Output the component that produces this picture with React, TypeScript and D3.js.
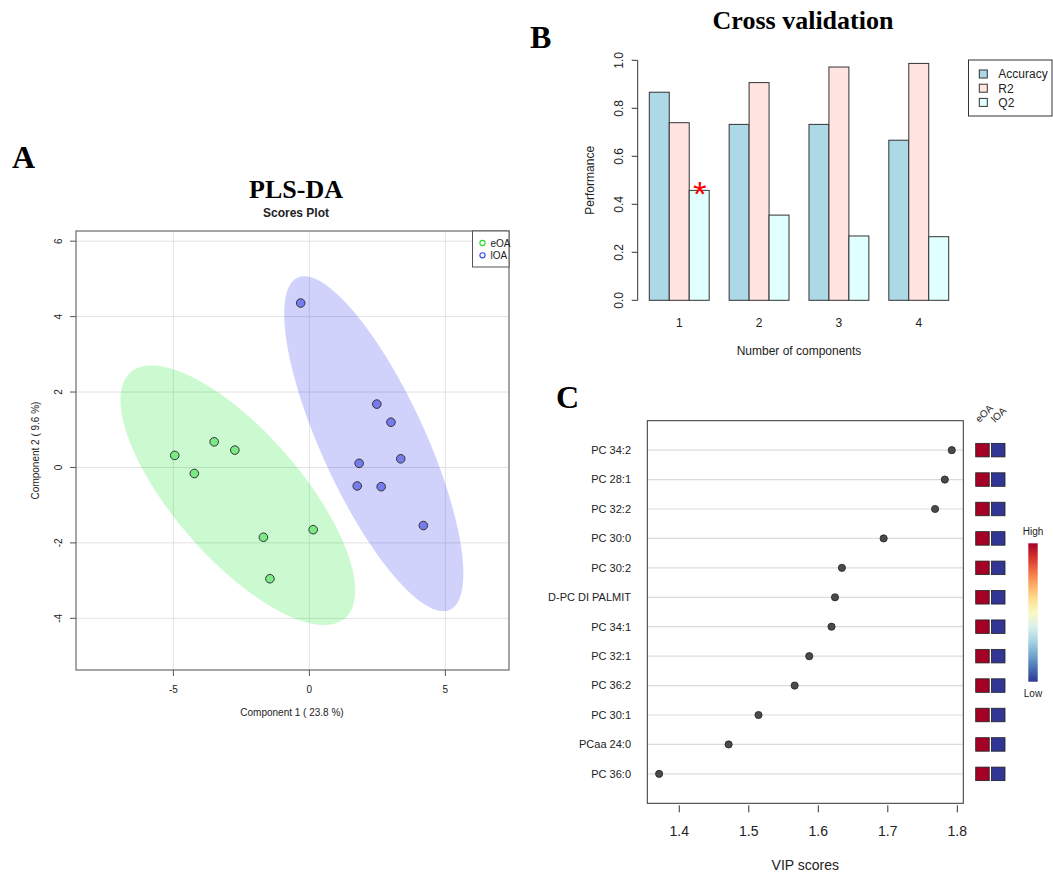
import React from "react";
import * as d3 from "d3";

const width = 1053;
const height = 875;

// ---- panel A: PLS-DA scores
const eoaX = [-4.95, -3.5, -2.74, -4.23, -1.69, 0.14, -1.45];
const eoaY = [0.32, 0.68, 0.46, -0.16, -1.85, -1.65, -2.95];
const loaX = [-0.32, 2.48, 3.0, 1.83, 3.36, 1.76, 2.64, 4.19];
const loaY = [4.36, 1.68, 1.2, 0.11, 0.23, -0.49, -0.51, -1.54];
const scoreXTicks = [-5, 0, 5];
const scoreYTicks = [-4, -2, 0, 2, 4, 6];

// ---- panel B: cross validation
const components = ["1", "2", "3", "4"];
const measures = ["Accuracy", "R2", "Q2"];
const accuracy = [0.867, 0.733, 0.733, 0.667];
const r2 = [0.74, 0.907, 0.972, 0.987];
const q2 = [0.458, 0.355, 0.268, 0.265];
const perfTicks = [0, 0.2, 0.4, 0.6, 0.8, 1.0];
const measureColors = ["#ADD8E6", "#FFE4E1", "#E0FFFF"];

// ---- panel C: VIP scores
const features = [
  "PC 34:2", "PC 28:1", "PC 32:2", "PC 30:0", "PC 30:2", "D-PC DI PALMIT",
  "PC 34:1", "PC 32:1", "PC 36:2", "PC 30:1", "PCaa 24:0", "PC 36:0",
];
const vip = [1.792, 1.782, 1.768, 1.694, 1.634, 1.624, 1.619, 1.587, 1.566, 1.514, 1.471, 1.371];
const vipTicks = [1.4, 1.5, 1.6, 1.7, 1.8];
const groups = ["eOA", "lOA"];
const eoaLevel = [1, 1, 1, 1, 1, 1, 1, 1, 1, 1, 1, 1];
const loaLevel = [0, 0, 0, 0, 0, 0, 0, 0, 0, 0, 0, 0];

const sans = "'Liberation Sans', Arial, sans-serif";
const serif = "'Liberation Serif', 'Times New Roman', serif";
const ink = "#222";

// 95% confidence ellipse, same parametrisation as R's ellipse()
function ellipse(xs: number[], ys: number[], t = Math.sqrt(5.991)) {
  const n = xs.length;
  const mx = d3.mean(xs)!;
  const my = d3.mean(ys)!;
  const sxx = d3.sum(xs, (x) => (x - mx) ** 2) / (n - 1);
  const syy = d3.sum(ys, (y) => (y - my) ** 2) / (n - 1);
  const sxy = d3.sum(xs.map((x, i) => (x - mx) * (ys[i] - my))) / (n - 1);
  const d = Math.acos(sxy / Math.sqrt(sxx * syy));
  return d3.range(120).map((i) => {
    const a = (i / 120) * 2 * Math.PI;
    return [mx + t * Math.sqrt(sxx) * Math.cos(a + d / 2), my + t * Math.sqrt(syy) * Math.cos(a - d / 2)];
  });
}

const ScoresPlot = () => {
  const x = d3.scaleLinear().domain([-8.58, 7.34]).range([76, 509]);
  const y = d3.scaleLinear().domain([-5.37, 6.27]).range([670, 231]);
  const path = d3
    .line<number[]>()
    .x((d) => x(d[0]))
    .y((d) => y(d[1]))
    .curve(d3.curveLinearClosed);
  const [x0, x1] = x.range();
  const [y0, y1] = y.range();
  const series = [
    { xs: eoaX, ys: eoaY, fill: "rgba(0,230,20,0.2)", pt: "#7aea84", legend: "#22dd22", name: "eOA" },
    { xs: loaX, ys: loaY, fill: "rgba(20,30,240,0.2)", pt: "#767cf0", legend: "#3344ee", name: "lOA" },
  ];
  return (
    <g>
      <text x={12} y={168} fontFamily={serif} fontWeight="bold" fontSize={32}>A</text>
      <text x={296} y={198} textAnchor="middle" fontFamily={serif} fontWeight="bold" fontSize={26}>PLS-DA</text>
      <text x={296} y={217} textAnchor="middle" fontFamily={sans} fontWeight="bold" fontSize={12} fill={ink}>Scores Plot</text>

      {/* grid */}
      {scoreXTicks.map((t) => (
        <line key={"gx" + t} x1={x(t)} x2={x(t)} y1={y1} y2={y0} stroke="#e2e2e2" />
      ))}
      {scoreYTicks.map((t) => (
        <line key={"gy" + t} x1={x0} x2={x1} y1={y(t)} y2={y(t)} stroke="#e2e2e2" />
      ))}

      {series.map((s) => (
        <path key={"e" + s.name} d={path(ellipse(s.xs, s.ys))!} fill={s.fill} stroke="none" />
      ))}
      {series.map((s) =>
        s.xs.map((v, i) => (
          <circle key={s.name + i} cx={x(v)} cy={y(s.ys[i])} r={4.3} fill={s.pt} stroke="#333" strokeWidth={1} />
        ))
      )}

      <rect x={x0} y={y1} width={x1 - x0} height={y0 - y1} fill="none" stroke="#6a6a6a" strokeWidth={1.2} />

      {/* axes */}
      {scoreXTicks.map((t) => (
        <g key={"tx" + t} transform={`translate(${x(t)},${y0})`}>
          <line y2={6} stroke="#555" />
          <text y={23} textAnchor="middle" fontFamily={sans} fontSize={10} fill={ink}>{t}</text>
        </g>
      ))}
      {scoreYTicks.map((t) => (
        <g key={"ty" + t} transform={`translate(${x0},${y(t)})`}>
          <line x2={-6} stroke="#555" />
          <text transform="translate(-14,0) rotate(-90)" textAnchor="middle" fontFamily={sans} fontSize={10} fill={ink}>{t}</text>
        </g>
      ))}
      <text x={292} y={716} textAnchor="middle" fontFamily={sans} fontSize={10} fill={ink}>Component 1 ( 23.8 %)</text>
      <text transform={`translate(39,${(y0 + y1) / 2}) rotate(-90)`} textAnchor="middle" fontFamily={sans} fontSize={10} fill={ink}>
        Component 2 ( 9.6 %)
      </text>

      {/* legend */}
      <rect x={472.5} y={y1} width={x1 - 472.5} height={36} fill="white" stroke="#555" />
      {series.map((s, i) => (
        <g key={"lg" + s.name} transform={`translate(482.5,${243 + i * 12.3})`}>
          <circle r={2.6} fill="none" stroke={s.legend} strokeWidth={1.1} />
          <text x={8} y={3.5} fontFamily={sans} fontSize={10} fill={ink}>{s.name}</text>
        </g>
      ))}
    </g>
  );
};

const CrossValidation = () => {
  const values = [accuracy, r2, q2];
  const x = d3.scaleBand().domain(components).range([649.3, 948.7]).paddingInner(0.25);
  const xi = d3.scaleBand().domain(measures).range([0, x.bandwidth()]);
  const y = d3.scaleLinear().domain([0, 1]).range([300.3, 60.3]);
  const best = d3.maxIndex(q2);
  return (
    <g>
      <text x={530} y={48} fontFamily={serif} fontWeight="bold" fontSize={32}>B</text>
      <text x={803} y={29} textAnchor="middle" fontFamily={serif} fontWeight="bold" fontSize={26}>Cross validation</text>

      {components.map((c, ci) => (
        <g key={c} transform={`translate(${x(c)},0)`}>
          {measures.map((m, mi) => (
            <rect
              key={m}
              x={xi(m)}
              y={y(values[mi][ci])}
              width={xi.bandwidth()}
              height={y(0) - y(values[mi][ci])}
              fill={measureColors[mi]}
              stroke="#333"
              strokeWidth={1}
            />
          ))}
          <text x={x.bandwidth() / 2} y={327} textAnchor="middle" fontFamily={sans} fontSize={12} fill={ink}>{c}</text>
        </g>
      ))}
      <text
        x={x(components[best])! + xi("Q2")! + xi.bandwidth() / 2 + 0.5}
        y={y(q2[best]) + 16}
        textAnchor="middle"
        fontFamily={sans}
        fontSize={35}
        fill="red"
      >
        *
      </text>

      {/* y axis */}
      <line x1={637.7} x2={637.7} y1={y(0)} y2={y(1)} stroke="#333" />
      {perfTicks.map((t) => (
        <g key={t} transform={`translate(637.7,${y(t)})`}>
          <line x2={-6} stroke="#333" />
          <text transform="translate(-15,0) rotate(-90)" textAnchor="middle" fontFamily={sans} fontSize={12} fill={ink}>
            {t.toFixed(1)}
          </text>
        </g>
      ))}
      <text transform={`translate(594,${(y(0) + y(1)) / 2}) rotate(-90)`} textAnchor="middle" fontFamily={sans} fontSize={12} fill={ink}>
        Performance
      </text>
      <text x={799} y={355} textAnchor="middle" fontFamily={sans} fontSize={12} fill={ink}>Number of components</text>

      {/* legend */}
      <rect x={968.5} y={60} width={83.5} height={56} fill="white" stroke="#333" />
      {measures.map((m, i) => (
        <g key={m} transform={`translate(983.3,${74 + i * 14.2})`}>
          <rect x={-4} y={-4} width={8} height={8} fill={measureColors[i]} stroke="#333" />
          <text x={15} y={4.3} fontFamily={sans} fontSize={12} fill={ink}>{m}</text>
        </g>
      ))}
    </g>
  );
};

const VipPlot = () => {
  const x = d3.scaleLinear().domain([1.354, 1.8086]).range([647.3, 963.3]);
  const y = d3.scalePoint().domain(features).range([420.7, 803.3]).padding(1);
  const hx = d3.scaleBand().domain(groups).range([975.7, 1005]).paddingInner(0.14);
  const color = d3.scaleSequential(d3.interpolateRdYlBu).domain([1, 0]);
  const levels = [eoaLevel, loaLevel];
  const [x0, x1] = x.range();
  const [y0, y1] = y.range();
  const cbTop = 543.3;
  const cbBottom = 681.7;
  const stops = d3.range(0, 1.0001, 0.1);
  return (
    <g>
      <text x={556} y={408} fontFamily={serif} fontWeight="bold" fontSize={32}>C</text>

      {features.map((f) => (
        <line key={"g" + f} x1={x0} x2={x1} y1={y(f)} y2={y(f)} stroke="#dcdcdc" strokeWidth={1.2} />
      ))}
      <rect x={x0} y={y0} width={x1 - x0} height={y1 - y0} fill="none" stroke="#333" strokeWidth={1} />
      {features.map((f, i) => (
        <g key={f}>
          <circle cx={x(vip[i])} cy={y(f)} r={3.6} fill="#4a4a4a" stroke="#222" strokeWidth={0.8} />
          <text x={631} y={y(f)! + 3.8} textAnchor="end" fontFamily={sans} fontSize={11} fill={ink}>{f}</text>
        </g>
      ))}

      {/* x axis */}
      {vipTicks.map((t) => (
        <g key={t} transform={`translate(${x(t)},${y1})`}>
          <line y1={2} y2={9} stroke="#333" />
          <text y={33} textAnchor="middle" fontFamily={sans} fontSize={14} fill={ink}>{t.toFixed(1)}</text>
        </g>
      ))}
      <text x={(x0 + x1) / 2} y={870} textAnchor="middle" fontFamily={sans} fontSize={14} fill={ink}>VIP scores</text>

      {/* group mean heat squares */}
      {groups.map((g, gi) => (
        <g key={g}>
          <text
            transform={`translate(${hx(g)! + hx.bandwidth() / 2 - 3},${423}) rotate(-45)`}
            fontFamily={sans}
            fontSize={10}
            fill={ink}
          >
            {g}
          </text>
          {features.map((f, i) => (
            <rect
              key={f}
              x={hx(g)}
              y={y(f)! - hx.bandwidth() / 2}
              width={hx.bandwidth()}
              height={hx.bandwidth()}
              fill={color(levels[gi][i])}
              stroke="#222"
              strokeWidth={0.8}
            />
          ))}
        </g>
      ))}

      {/* colour key */}
      <defs>
        <linearGradient id="vipKey" x1="0" x2="0" y1="0" y2="1">
          {stops.map((s) => (
            <stop key={s} offset={s} stopColor={d3.interpolateRdYlBu(s)} />
          ))}
        </linearGradient>
      </defs>
      <rect x={1028.3} y={cbTop} width={9.4} height={cbBottom - cbTop} fill="url(#vipKey)" />
      <text x={1033} y={535} textAnchor="middle" fontFamily={sans} fontSize={10} fill={ink}>High</text>
      <text x={1033} y={697} textAnchor="middle" fontFamily={sans} fontSize={10} fill={ink}>Low</text>
    </g>
  );
};

export default function App() {
  return (
    <svg
      width={width}
      height={height}
      style={{ position: "absolute", left: 0, top: 0, background: "white" }}
    >
      <ScoresPlot />
      <CrossValidation />
      <VipPlot />
    </svg>
  );
}
